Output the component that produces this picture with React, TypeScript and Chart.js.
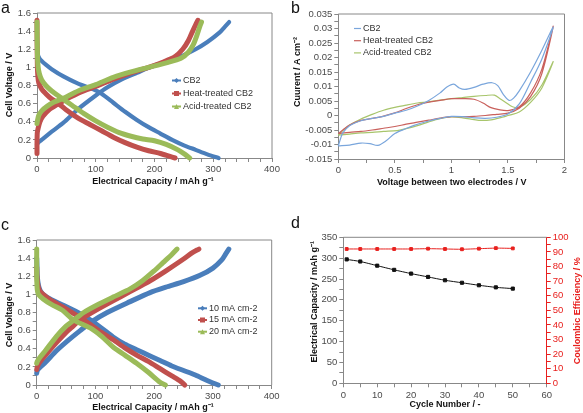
import React, { useEffect, useRef } from 'react';
import { Chart, registerables } from 'chart.js';
Chart.register(...registerables);

type P = [number, number];

// ---------- Panel a: charge / discharge curves ----------
const seriesA = ['CB2', 'Heat-treated CB2', 'Acid-treated CB2'];
const cb2ChargeA: P[] = [[0,0.15],[2,0.17],[10,0.21],[25,0.29],[45,0.39],[70,0.54],[100,0.69],[120,0.78],[145,0.87],[170,0.94],[195,1.01],[220,1.06],[245,1.12],[270,1.2],[290,1.28],[310,1.38],[320,1.45],[327,1.5]];
const cb2DischargeA: P[] = [[0,1.3],[0.5,1.2],[1.5,1.14],[4,1.1],[8,1.07],[15,1.03],[25,0.98],[45,0.9],[70,0.82],[95,0.76],[110,0.71],[130,0.61],[150,0.51],[170,0.42],[190,0.34],[210,0.27],[230,0.2],[250,0.14],[270,0.09],[290,0.04],[309,0]];
const heatChargeA: P[] = [[0,0.05],[0,0.15],[0.5,0.28],[2,0.33],[5,0.4],[10,0.46],[20,0.53],[37,0.6],[50,0.65],[75,0.73],[100,0.79],[130,0.87],[160,0.94],[190,1.0],[215,1.06],[235,1.12],[248,1.2],[258,1.3],[265,1.4],[270,1.47],[274,1.52]];
const heatDischargeA: P[] = [[0,1.52],[0,1.45],[0.3,1.2],[0.7,1.0],[1.5,0.9],[3,0.83],[8,0.76],[15,0.71],[25,0.65],[37,0.6],[50,0.53],[70,0.44],[90,0.37],[110,0.3],[130,0.23],[150,0.17],[170,0.12],[190,0.08],[210,0.05],[225,0.02],[235,0]];
const acidChargeA: P[] = [[0,0.38],[1,0.42],[3,0.47],[8,0.52],[17,0.57],[30,0.62],[45,0.66],[70,0.74],[100,0.81],[130,0.89],[160,0.95],[190,1.0],[220,1.05],[245,1.1],[258,1.17],[266,1.25],[272,1.35],[277,1.45],[280,1.5]];
const acidDischargeA: P[] = [[0,1.5],[0.3,1.3],[1,1.1],[2,1.0],[4,0.93],[8,0.86],[15,0.8],[25,0.74],[40,0.67],[60,0.58],[80,0.49],[100,0.41],[120,0.34],[140,0.28],[160,0.24],[180,0.21],[200,0.19],[220,0.15],[240,0.09],[252,0.04],[260,0]];

// ---------- Panel b: cyclic voltammograms (closed loops) ----------
const seriesB = ['CB2', 'Heat-treated CB2', 'Acid-treated CB2'];
const cb2CV: P[] = [[0,-0.0105],[0.1,-0.0102],[0.2,-0.0095],[0.28,-0.0097],[0.35,-0.0103],[0.42,-0.0088],[0.5,-0.0062],[0.6,-0.0045],[0.67,-0.0034],[0.8,-0.0019],[0.9,-0.001],[1.0,-0.0003],[1.1,-0.0004],[1.2,-0.0008],[1.3,-0.001],[1.4,-0.0006],[1.5,0.0005],[1.6,0.004],[1.7,0.0115],[1.8,0.0195],[1.9,0.0305],[1.8,0.0225],[1.7,0.015],[1.6,0.0085],[1.55,0.006],[1.51,0.0052],[1.46,0.0072],[1.41,0.0103],[1.36,0.0113],[1.28,0.0108],[1.2,0.0097],[1.12,0.009],[1.07,0.0095],[1.02,0.0108],[0.96,0.0098],[0.9,0.0078],[0.8,0.0052],[0.7,0.0033],[0.6,0.0018],[0.5,0.0008],[0.4,-0.0003],[0.3,-0.001],[0.2,-0.0018],[0.1,-0.0035],[0.04,-0.006],[0.01,-0.0092],[0,-0.0105]];
const heatCV: P[] = [[0,-0.0062],[0.1,-0.0058],[0.2,-0.0055],[0.3,-0.005],[0.4,-0.0044],[0.5,-0.0038],[0.6,-0.003],[0.7,-0.0023],[0.8,-0.0016],[0.9,-0.0009],[1.0,-0.0004],[1.1,-0.0004],[1.2,-0.0003],[1.3,0.0],[1.4,0.0004],[1.5,0.0008],[1.6,0.0025],[1.7,0.0065],[1.8,0.0145],[1.9,0.0308],[1.8,0.016],[1.7,0.0078],[1.6,0.003],[1.5,0.0017],[1.42,0.002],[1.35,0.0027],[1.28,0.0043],[1.2,0.0056],[1.1,0.0058],[1.0,0.0058],[0.9,0.0052],[0.8,0.0046],[0.7,0.0037],[0.6,0.0024],[0.5,0.0009],[0.4,-0.0002],[0.3,-0.001],[0.2,-0.0017],[0.1,-0.0033],[0.04,-0.005],[0,-0.0062]];
const acidCV: P[] = [[0,-0.0068],[0.1,-0.0064],[0.2,-0.006],[0.3,-0.0058],[0.4,-0.0055],[0.52,-0.0052],[0.6,-0.0045],[0.7,-0.0035],[0.8,-0.0022],[0.9,-0.0011],[1.0,-0.0005],[1.1,-0.0008],[1.2,-0.0014],[1.26,-0.0017],[1.35,-0.0015],[1.45,-0.0006],[1.5,0.0],[1.6,0.0012],[1.7,0.0045],[1.8,0.0095],[1.9,0.0186],[1.8,0.0105],[1.7,0.0055],[1.6,0.0028],[1.54,0.003],[1.48,0.0045],[1.43,0.0058],[1.38,0.007],[1.3,0.0069],[1.2,0.0066],[1.1,0.0062],[1.0,0.0058],[0.9,0.0053],[0.8,0.0047],[0.7,0.0043],[0.6,0.0036],[0.5,0.0028],[0.4,0.0018],[0.3,0.0004],[0.2,-0.0012],[0.1,-0.0033],[0.04,-0.0052],[0,-0.0068]];

// ---------- Panel c: rate dependence ----------
const seriesC = ['10 mA cm-2', '15 mA cm-2', '20 mA cm-2'];
const rate10ChargeC: P[] = [[0,0.13],[1,0.16],[5,0.19],[15,0.25],[34,0.38],[55,0.5],[74,0.6],[94,0.7],[120,0.8],[159,0.92],[193,1.02],[220,1.08],[250,1.14],[278,1.21],[300,1.29],[315,1.38],[322,1.45],[327,1.5]];
const rate10DischargeC: P[] = [[0,1.4],[0.5,1.3],[1,1.2],[3,1.1],[6,1.04],[11,1.0],[25,0.94],[45,0.88],[70,0.8],[91,0.72],[110,0.63],[130,0.53],[150,0.45],[170,0.39],[193,0.32],[210,0.27],[230,0.21],[250,0.16],[270,0.11],[290,0.05],[309,0]];
const rate15ChargeC: P[] = [[0,0.17],[1,0.2],[5,0.25],[15,0.33],[34,0.47],[50,0.58],[62,0.65],[74,0.72],[102,0.83],[130,0.93],[159,1.03],[193,1.15],[220,1.26],[250,1.39],[265,1.46],[276,1.5]];
const rate15DischargeC: P[] = [[0,1.3],[0.5,1.2],[2,1.1],[5,1.04],[11,1.0],[25,0.93],[45,0.86],[70,0.76],[91,0.67],[110,0.58],[130,0.5],[150,0.41],[170,0.33],[190,0.26],[210,0.18],[230,0.1],[245,0.04],[252,0]];
const rate20ChargeC: P[] = [[0,0.24],[1,0.26],[5,0.3],[15,0.38],[34,0.54],[50,0.65],[62,0.71],[80,0.8],[102,0.88],[130,0.97],[159,1.06],[180,1.15],[200,1.26],[215,1.35],[230,1.44],[239,1.5]];
const rate20DischargeC: P[] = [[0,1.5],[0,1.2],[1,1.05],[3,1.0],[11,0.95],[25,0.89],[45,0.82],[62,0.72],[91,0.63],[110,0.54],[130,0.42],[150,0.33],[170,0.24],[190,0.14],[210,0.03],[219,0]];

// ---------- Panel d: cycling ----------
const cycleNumbers = [1, 5, 10, 15, 20, 25, 30, 35, 40, 45, 50];
const capacityD = [297, 292, 282, 272, 263, 255, 247, 241, 235, 230, 227];
const efficiencyD = [92, 92, 92, 92, 92, 92.2, 92, 91.8, 92.2, 92.6, 92.4];

// ---------- styling ----------
const FONT = "'Liberation Sans', Arial, sans-serif";
const AXIS_GRAY = '#888888';
const TICK_COLOR = '#4a4a4a';
const BLUE = '#4a7ebb';
const RED = '#c0504d';
const GREEN = '#9bbb59';
const CV_BLUE = '#7aa6dc';
const CV_RED = '#c9605c';
const CV_GREEN = '#a8c56c';
const CE_RED = '#e8201e';
const TICK_SIZE = 9.5;
const TITLE_FONT = `bold 9px ${FONT}`;
const LEGEND_FONT = `9px ${FONT}`;

const toXY = (pts: P[]) => pts.map(([x, y]) => ({ x, y }));
const fmt = (v: number) => String(parseFloat(v.toFixed(4)));

function axis(c: any) {
  const horiz = c.position === 'bottom';
  const col = c.axisColor || AXIS_GRAY;
  return {
    type: 'linear',
    position: c.position,
    min: c.min,
    max: c.max,
    ticks: {
      stepSize: c.step,
      autoSkip: false,
      maxTicksLimit: 1000,
      maxRotation: 0,
      minRotation: 0,
      padding: 2,
      color: c.tickColor || TICK_COLOR,
      font: { family: FONT, size: TICK_SIZE },
      callback: (v: number) => {
        const k = Math.round((v / c.major) * 1e6) / 1e6;
        return Number.isInteger(k) ? fmt(v) : '';
      },
    },
    grid: { display: true, drawOnChartArea: false, drawTicks: true, tickLength: 4, color: col, lineWidth: 1 },
    border: { display: true, color: col, width: 1 },
    title: { display: false },
    afterFit: (s: any) => {
      if (horiz) s.height = c.size;
      else s.width = c.size;
    },
  };
}

function drawMarker(ctx: CanvasRenderingContext2D, type: string, x: number, y: number, s: number, color: string) {
  ctx.fillStyle = color;
  ctx.beginPath();
  if (type === 'diamond') {
    ctx.moveTo(x, y - s / 2); ctx.lineTo(x + s / 2, y); ctx.lineTo(x, y + s / 2); ctx.lineTo(x - s / 2, y);
  } else if (type === 'square') {
    ctx.rect(x - s / 2, y - s / 2, s, s);
  } else if (type === 'triangle') {
    ctx.moveTo(x, y - s / 2); ctx.lineTo(x + s / 2, y + s / 2); ctx.lineTo(x - s / 2, y + s / 2);
  }
  ctx.closePath();
  ctx.fill();
}

function legendPlugin(cfg: any) {
  return {
    id: 'panelLegend',
    afterDatasetsDraw(chart: any) {
      const ctx = chart.ctx as CanvasRenderingContext2D;
      ctx.save();
      ctx.font = LEGEND_FONT;
      ctx.textBaseline = 'middle';
      ctx.textAlign = 'left';
      cfg.items.forEach((it: any, i: number) => {
        const y = cfg.y + i * cfg.spacing;
        ctx.strokeStyle = it.color;
        ctx.lineWidth = cfg.lineWidth;
        ctx.beginPath();
        ctx.moveTo(cfg.x, y);
        ctx.lineTo(cfg.x + cfg.len, y);
        ctx.stroke();
        if (it.marker) drawMarker(ctx, it.marker, cfg.x + cfg.len / 2, y, cfg.markerSize, it.color);
        ctx.fillStyle = '#333333';
        ctx.fillText(it.label, cfg.x + cfg.len + cfg.gap, y);
      });
      ctx.restore();
    },
  };
}

function textPlugin(items: any[]) {
  return {
    id: 'panelTexts',
    afterDraw(chart: any) {
      const ctx = chart.ctx as CanvasRenderingContext2D;
      items.forEach((t) => {
        ctx.save();
        ctx.font = TITLE_FONT;
        ctx.fillStyle = t.color || '#111111';
        ctx.textAlign = 'center';
        ctx.textBaseline = 'middle';
        ctx.translate(t.x, t.y);
        if (t.rotate) ctx.rotate(-Math.PI / 2);
        ctx.fillText(t.text, 0, 0);
        ctx.restore();
      });
    },
  };
}

function framePlugin(sides: string[]) {
  return {
    id: 'panelFrame',
    beforeDatasetsDraw(chart: any) {
      const { left, right, top, bottom } = chart.chartArea;
      const ctx = chart.ctx as CanvasRenderingContext2D;
      ctx.save();
      ctx.strokeStyle = AXIS_GRAY;
      ctx.lineWidth = 1;
      ctx.beginPath();
      if (sides.includes('top')) { ctx.moveTo(left, top); ctx.lineTo(right, top); }
      if (sides.includes('right')) { ctx.moveTo(right, top); ctx.lineTo(right, bottom); }
      ctx.stroke();
      ctx.restore();
    },
  };
}

const thickDs = (pts: P[], color: string, width: number, order: number) => ({
  data: toXY(pts),
  showLine: true,
  borderColor: color,
  backgroundColor: color,
  borderWidth: width,
  pointRadius: 0,
  tension: 0.25,
  order,
  clip: 10,
  borderJoinStyle: 'round',
  borderCapStyle: 'round',
});

const baseOptions = (padding: any, scales: any) => ({
  responsive: false,
  animation: false,
  events: [],
  layout: { padding },
  plugins: { legend: { display: false }, tooltip: { enabled: false } },
  scales,
});

const colorsABC = [BLUE, RED, GREEN];
const widthsABC = [4.2, 5, 5];
const ordersABC = [2, 1, 0];
const markersABC = ['diamond', 'square', 'triangle'];

function buildA() {
  const curves = [[cb2ChargeA, cb2DischargeA], [heatChargeA, heatDischargeA], [acidChargeA, acidDischargeA]];
  const datasets: any[] = [];
  curves.forEach((pair, i) => pair.forEach((c) => datasets.push(thickDs(c, colorsABC[i], widthsABC[i], ordersABC[i]))));
  return {
    type: 'scatter',
    data: { datasets },
    options: baseOptions({ left: 0, top: 13, right: 18, bottom: 0 }, {
      x: axis({ position: 'bottom', min: 0, max: 400, step: 20, major: 100, size: 42 }),
      y: axis({ position: 'left', min: 0, max: 1.6, step: 0.1, major: 0.2, size: 37 }),
    }),
    plugins: [
      framePlugin(['top', 'right']),
      legendPlugin({ x: 172, y: 80.5, spacing: 13, len: 9, gap: 2, lineWidth: 2, markerSize: 5,
        items: seriesA.map((label, i) => ({ label, color: colorsABC[i], marker: markersABC[i] })) }),
      textPlugin([
        { text: 'Electrical Capacity / mAh g\u207B\u00B9', x: 153, y: 181.5 },
        { text: 'Cell Voltage / V', x: 10, y: 85, rotate: true },
      ]),
    ],
  };
}

function buildB() {
  const loops = [cb2CV, heatCV, acidCV];
  const cols = [CV_BLUE, CV_RED, CV_GREEN];
  const datasets = loops.map((l, i) => ({
    data: toXY(l), showLine: true, borderColor: cols[i], backgroundColor: cols[i], borderWidth: 1.2,
    pointRadius: 0, tension: 0.3, clip: 4,
  }));
  return {
    type: 'scatter',
    data: { datasets },
    options: baseOptions({ left: 0, top: 14, right: 18.5, bottom: 0 }, {
      x: axis({ position: 'bottom', min: 0, max: 2, step: 0.25, major: 0.5, size: 41 }),
      y: axis({ position: 'left', min: -0.015, max: 0.035, step: 0.0025, major: 0.005, size: 48.3 }),
    }),
    plugins: [
      framePlugin(['top', 'right']),
      legendPlugin({ x: 64, y: 28.5, spacing: 12.2, len: 7, gap: 2, lineWidth: 1.2, markerSize: 0,
        items: seriesB.map((label, i) => ({ label, color: cols[i], marker: null })) }),
      textPlugin([
        { text: 'Voltage between two electrodes / V', x: 161.7, y: 182.7 },
        { text: 'Cuurent / A cm\u207B\u00B2', x: 7.8, y: 72, rotate: true },
      ]),
    ],
  };
}

function buildC() {
  const curves = [[rate10ChargeC, rate10DischargeC], [rate15ChargeC, rate15DischargeC], [rate20ChargeC, rate20DischargeC]];
  const datasets: any[] = [];
  curves.forEach((pair, i) => pair.forEach((c) => datasets.push(thickDs(c, colorsABC[i], 5, ordersABC[i]))));
  return {
    type: 'scatter',
    data: { datasets },
    options: baseOptions({ left: 0, top: 40, right: 18.3, bottom: 0 }, {
      x: axis({ position: 'bottom', min: 0, max: 400, step: 20, major: 100, size: 28 }),
      y: axis({ position: 'left', min: 0, max: 1.6, step: 0.1, major: 0.2, size: 36.7 }),
    }),
    plugins: [
      framePlugin(['top', 'right']),
      legendPlugin({ x: 198, y: 108.3, spacing: 11.7, len: 9, gap: 2, lineWidth: 2, markerSize: 5,
        items: seriesC.map((label, i) => ({ label, color: colorsABC[i], marker: markersABC[i] })) }),
      textPlugin([
        { text: 'Electrical Capacity / mAh g\u207B\u00B9', x: 153, y: 208 },
        { text: 'Cell Voltage / V', x: 10, y: 115, rotate: true },
      ]),
    ],
  };
}

function buildD() {
  return {
    type: 'scatter',
    data: {
      datasets: [
        { data: cycleNumbers.map((x, i) => ({ x, y: capacityD[i] })), yAxisID: 'y', showLine: true,
          borderColor: '#111111', backgroundColor: '#111111', borderWidth: 1, pointStyle: 'rect', pointRadius: 2.2,
          tension: 0.2, clip: 5 },
        { data: cycleNumbers.map((x, i) => ({ x, y: efficiencyD[i] })), yAxisID: 'y2', showLine: true,
          borderColor: CE_RED, backgroundColor: CE_RED, borderWidth: 1, pointStyle: 'rect', pointRadius: 2,
          tension: 0.2, clip: 5 },
      ],
    },
    options: baseOptions({ left: 0, top: 37.3, right: 0, bottom: 0 }, {
      x: axis({ position: 'bottom', min: 0, max: 60, step: 5, major: 10, size: 29.7 }),
      y: axis({ position: 'left', min: 0, max: 350, step: 25, major: 50, size: 53.3 }),
      y2: axis({ position: 'right', min: 0, max: 100, step: 5, major: 10, size: 36.3, axisColor: CE_RED, tickColor: CE_RED }),
    }),
    plugins: [
      framePlugin(['top']),
      textPlugin([
        { text: 'Cycle Number / -', x: 155, y: 205 },
        { text: 'Electrical Capacity / mAh g\u207B\u00B9', x: 24.5, y: 101.7, rotate: true },
        { text: 'Coulombic Efficiency / %', x: 287.3, y: 110.8, rotate: true, color: CE_RED },
      ]),
    ],
  };
}

function Panel({ left, top, width, height, build }: any) {
  const ref = useRef<HTMLCanvasElement>(null);
  useEffect(() => {
    const chart = new Chart(ref.current as HTMLCanvasElement, build() as any);
    return () => chart.destroy();
  }, []);
  return (
    <canvas
      ref={ref}
      width={width}
      height={height}
      style={{ position: 'absolute', left, top, width, height, display: 'block' }}
    />
  );
}

const letterStyle = (left: number, top: number): React.CSSProperties => ({
  position: 'absolute', left, top, fontFamily: FONT, fontSize: 16, lineHeight: '16px', color: '#111',
});

export default function App() {
  return (
    <div style={{ position: 'fixed', left: 0, top: 0, width: 583, height: 413, background: '#fff', overflow: 'hidden' }}>
      <Panel left={0} top={0} width={290} height={200} build={buildA} />
      <Panel left={290} top={0} width={293} height={200} build={buildB} />
      <Panel left={0} top={200} width={290} height={213} build={buildC} />
      <Panel left={290} top={200} width={293} height={213} build={buildD} />
      <div style={letterStyle(1, 0)}>a</div>
      <div style={letterStyle(291, 0)}>b</div>
      <div style={letterStyle(1, 217)}>c</div>
      <div style={letterStyle(291, 215)}>d</div>
    </div>
  );
}
